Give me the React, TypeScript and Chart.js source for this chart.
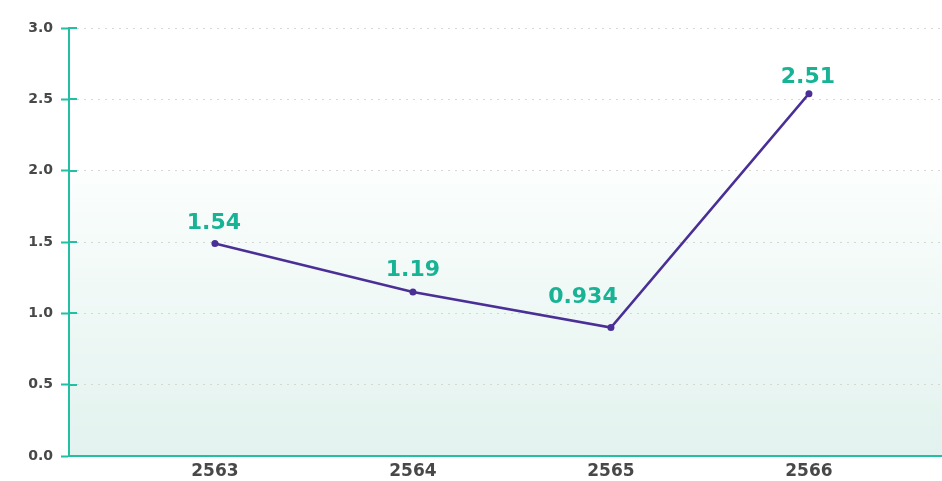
import React, { useEffect, useRef } from "react";
import { Chart, registerables } from "chart.js";

Chart.register(...registerables);

const years = [2563, 2564, 2565, 2566];
const values = [1.49, 1.15, 0.9, 2.54];
const valueLabels = ["1.54", "1.19", "0.934", "2.51"];
const yMin = 0;
const yMax = 3;
const yStep = 0.5;
const shadeFrom = 2.0;
const xMin = 2562.263;
const xMax = 2566.672;

const TEAL = "#22bfa3";
const LABEL_TEAL = "#17b394";
const PURPLE = "#4a2f97";
const TICK_TEXT = "#484848";
const FONT = "'DejaVu Sans', sans-serif";

const labelOffsets: [number, number][] = [
  [-1, 14],
  [0, 16],
  [-28, 25],
  [-1, 11],
];

const bgPlugin = {
  id: "bgShade",
  beforeDraw(chart: any) {
    const { ctx, chartArea, scales } = chart;
    const top = scales.y.getPixelForValue(shadeFrom);
    const bottom = chartArea.bottom;
    const g = ctx.createLinearGradient(0, top, 0, bottom);
    g.addColorStop(0, "#fbfefd");
    g.addColorStop(1, "#e2f2ee");
    ctx.save();
    ctx.fillStyle = g;
    ctx.fillRect(chartArea.left, top, chartArea.right - chartArea.left, bottom - top);
    ctx.restore();
  },
};

const innerTicksPlugin = {
  id: "innerTicks",
  afterDraw(chart: any) {
    const { ctx, chartArea, scales } = chart;
    ctx.save();
    ctx.strokeStyle = TEAL;
    ctx.lineWidth = 2;
    scales.y.ticks.forEach((t: any) => {
      const y = Math.round(scales.y.getPixelForValue(t.value));
      ctx.beginPath();
      ctx.moveTo(chartArea.left, y);
      ctx.lineTo(chartArea.left + 8, y);
      ctx.stroke();
    });
    ctx.restore();
  },
};

const valueLabelPlugin = {
  id: "valueLabels",
  afterDatasetsDraw(chart: any) {
    const { ctx } = chart;
    const meta = chart.getDatasetMeta(0);
    ctx.save();
    ctx.fillStyle = LABEL_TEAL;
    ctx.font = `bold 22px ${FONT}`;
    ctx.textAlign = "center";
    ctx.textBaseline = "alphabetic";
    meta.data.forEach((pt: any, i: number) => {
      const [dx, dy] = labelOffsets[i];
      ctx.fillText(valueLabels[i], pt.x + dx, pt.y - dy);
    });
    ctx.restore();
  },
};

export default function App() {
  const canvasRef = useRef<HTMLCanvasElement | null>(null);

  useEffect(() => {
    document.body.style.margin = "0";
    const canvas = canvasRef.current;
    if (!canvas) return;
    const chart = new Chart(canvas, {
      type: "line",
      data: {
        datasets: [
          {
            data: years.map((yr, i) => ({ x: yr, y: values[i] })),
            borderColor: PURPLE,
            backgroundColor: PURPLE,
            borderWidth: 2.5,
            pointRadius: 3.5,
            pointBorderWidth: 0,
            pointBackgroundColor: PURPLE,
            tension: 0,
            fill: false,
            clip: false,
          },
        ],
      },
      options: {
        animation: false,
        responsive: false,
        maintainAspectRatio: false,
        layout: { autoPadding: false, padding: { top: 28, right: 0, left: 0, bottom: 0 } },
        plugins: {
          legend: { display: false },
          tooltip: { enabled: false },
        },
        scales: {
          x: {
            type: "linear",
            min: xMin,
            max: xMax,
            afterBuildTicks: (scale: any) => {
              scale.ticks = years.map((v) => ({ value: v }));
            },
            afterFit: (scale: any) => {
              scale.height = 25;
            },
            grid: { display: false, drawTicks: false },
            border: { display: true, color: TEAL, width: 2 },
            ticks: {
              padding: 5,
              color: TICK_TEXT,
              font: { family: FONT, size: 17, weight: "bold" },
              callback: (v: any) => String(v),
              maxRotation: 0,
            },
          },
          y: {
            type: "linear",
            min: yMin,
            max: yMax,
            afterFit: (scale: any) => {
              scale.width = 69;
            },
            grid: {
              color: "#d6d6d6",
              lineWidth: 1,
              drawTicks: true,
              tickLength: 8,
              tickColor: TEAL,
              tickWidth: 2,
            },
            border: { display: true, color: TEAL, width: 2, dash: [2, 5] },
            ticks: {
              stepSize: yStep,
              padding: 8,
              color: TICK_TEXT,
              font: { family: FONT, size: 14, weight: "bold" },
              callback: (v: any) => Number(v).toFixed(1),
            },
          },
        },
      },
      plugins: [bgPlugin, innerTicksPlugin, valueLabelPlugin],
    });
    return () => chart.destroy();
  }, []);

  return (
    <div style={{ width: 942, height: 481 }}>
      <canvas ref={canvasRef} width={942} height={481} style={{ display: "block" }} />
    </div>
  );
}
